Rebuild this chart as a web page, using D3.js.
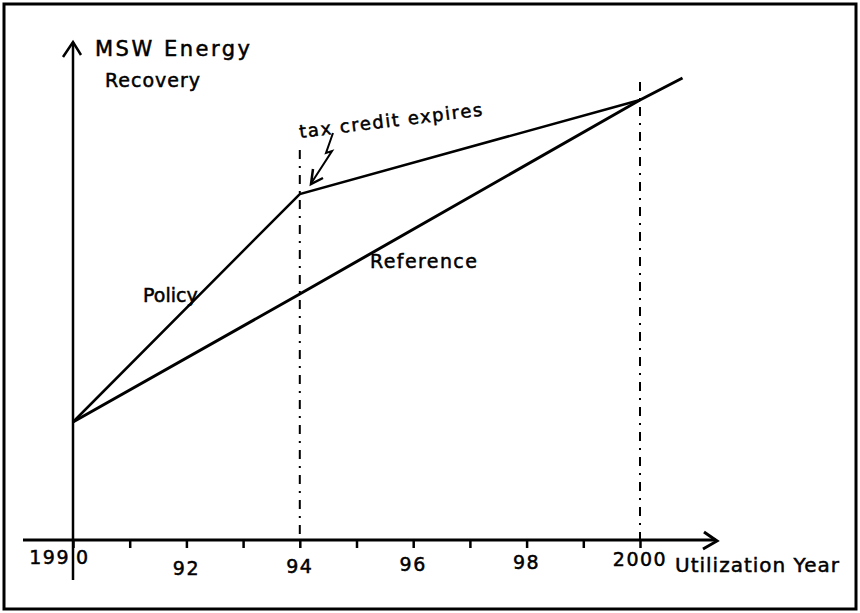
<!DOCTYPE html>
<html>
<head>
<meta charset="utf-8">
<script src="https://cdn.jsdelivr.net/npm/d3@7"></script>
<style>
    body { margin: 0; background: #fff; }
    text { font-family: "DejaVu Sans", sans-serif; fill: #000; stroke: #000; stroke-width: 0.5; }
</style>
</head>
<body>
<svg width="860" height="613"></svg>
<script>
// Data (arbitrary units on the y axis).
var policyYears = [1990, 1994, 2000];
var policyValues = [23.6, 69.2, 88];
var referenceYears = [1990, 1994, 2000, 2000.75];
var referenceValues = [23.6, 49.2, 88, 92.4];
var tickYears = [1990, 1991, 1992, 1993, 1994, 1995, 1996, 1997, 1998, 1999, 2000];
var labelYears = [1990, 1992, 1994, 1996, 1998, 2000];
var tickLabels = ["1990", "92", "94", "96", "98", "2000"];
var markerYears = [1994, 2000];

var svg = d3.select("svg");

var x = d3.scaleLinear().domain([1990, 2000]).range([73, 640]);
var y = d3.scaleLinear().domain([0, 100]).range([540, 40]);

// Frame round the whole picture.
svg.append("rect")
    .attr("x", 4).attr("y", 4)
    .attr("width", 852).attr("height", 605)
    .attr("fill", "none")
    .attr("stroke", "#000")
    .attr("stroke-width", 3);

// Dashed markers at 1994 and 2000.
svg.selectAll(".marker")
    .data(markerYears)
    .enter().append("line")
    .attr("class", "marker")
    .attr("x1", function(d) { return x(d); })
    .attr("x2", function(d) { return x(d); })
    .attr("y1", function(d) { return d == 1994 ? 150 : 82; })
    .attr("y2", y(0))
    .attr("stroke", "#000")
    .attr("stroke-width", 2)
    .attr("stroke-dasharray", "9,7,2,7");

// X axis, ticks only; labels are placed by hand below.
var xAxis = d3.axisBottom(x)
    .tickValues(tickYears)
    .tickSize(8)
    .tickSizeOuter(0)
    .tickFormat("");

var gx = svg.append("g")
    .attr("transform", "translate(0," + y(0) + ")")
    .call(xAxis);
gx.select(".domain").remove();
gx.selectAll(".tick line").attr("stroke-width", 2.5).attr("y1", -1);

svg.append("line")
    .attr("x1", 23).attr("x2", 716)
    .attr("y1", y(0)).attr("y2", y(0))
    .attr("stroke", "#000").attr("stroke-width", 3);
svg.append("path")
    .attr("d", "M704,532 L717,541 L703,549")
    .attr("fill", "none").attr("stroke", "#000").attr("stroke-width", 3)
    .attr("stroke-linejoin", "miter");

// Y axis with its arrow.
svg.append("line")
    .attr("x1", x(1990)).attr("x2", x(1990))
    .attr("y1", 42).attr("y2", 580)
    .attr("stroke", "#000").attr("stroke-width", 2.5);
svg.append("path")
    .attr("d", "M63,57 L73,42 L81,55")
    .attr("fill", "none").attr("stroke", "#000").attr("stroke-width", 2.5);

// Tick labels, hand lettered so the baselines wander a little.
var labelBaseline = { 1990: 564, 1992: 575, 1994: 573, 1996: 571, 1998: 569, 2000: 566 };

var labels = svg.selectAll(".tick-label")
    .data(labelYears)
    .enter().append("text")
    .attr("class", "tick-label")
    .attr("y", function(d) { return labelBaseline[d]; })
    .attr("font-size", 19)
    .attr("letter-spacing", 1.5);

labels.filter(function(d) { return d != 1990; })
    .attr("x", function(d) { return x(d); })
    .attr("text-anchor", "middle")
    .text(function(d) { return tickLabels[labelYears.indexOf(d)]; });

// The first label straddles the y axis: "199" left of it, "0" right of it.
labels.filter(function(d) { return d == 1990; })
    .attr("x", function(d) { return x(d) - 3; })
    .attr("text-anchor", "end")
    .text(tickLabels[0].slice(0, 3));
svg.append("text")
    .attr("x", x(1990) + 3).attr("y", labelBaseline[1990])
    .attr("font-size", 19)
    .text(tickLabels[0].slice(3));

svg.append("text")
    .attr("x", 675).attr("y", 572)
    .attr("font-size", 20)
    .attr("letter-spacing", 1)
    .text("Utilization Year");

// Y axis title.
svg.append("text")
    .attr("x", 95).attr("y", 56)
    .attr("font-size", 21)
    .attr("letter-spacing", 2.5)
    .text("MSW Energy");
svg.append("text")
    .attr("x", 105).attr("y", 87)
    .attr("font-size", 19)
    .attr("letter-spacing", 1)
    .text("Recovery");

// Curves.
var line = d3.line()
    .x(function(d) { return x(d[0]); })
    .y(function(d) { return y(d[1]); });

svg.append("path")
    .datum(d3.zip(referenceYears, referenceValues))
    .attr("d", line)
    .attr("fill", "none")
    .attr("stroke", "#000")
    .attr("stroke-width", 3);

svg.append("path")
    .datum(d3.zip(policyYears, policyValues))
    .attr("d", line)
    .attr("fill", "none")
    .attr("stroke", "#000")
    .attr("stroke-width", 2.5);

// Curve labels.
svg.append("text")
    .attr("x", 143).attr("y", 302)
    .attr("font-size", 19)
    .text("Policy");
svg.append("text")
    .attr("x", 370).attr("y", 268)
    .attr("font-size", 19)
    .attr("letter-spacing", 1.4)
    .text("Reference");

// Annotation with the zigzag arrow.
svg.append("text")
    .attr("transform", "translate(300,138) rotate(-7)")
    .attr("font-size", 18)
    .attr("letter-spacing", 1.6)
    .text("tax credit expires");
svg.append("path")
    .attr("d", "M333,133 L326,153 L332,151 L312,182")
    .attr("fill", "none").attr("stroke", "#000").attr("stroke-width", 2);
svg.append("path")
    .attr("d", "M313,169 L311,184 L323,178")
    .attr("fill", "none").attr("stroke", "#000").attr("stroke-width", 2.5);
</script>
</body>
</html>
